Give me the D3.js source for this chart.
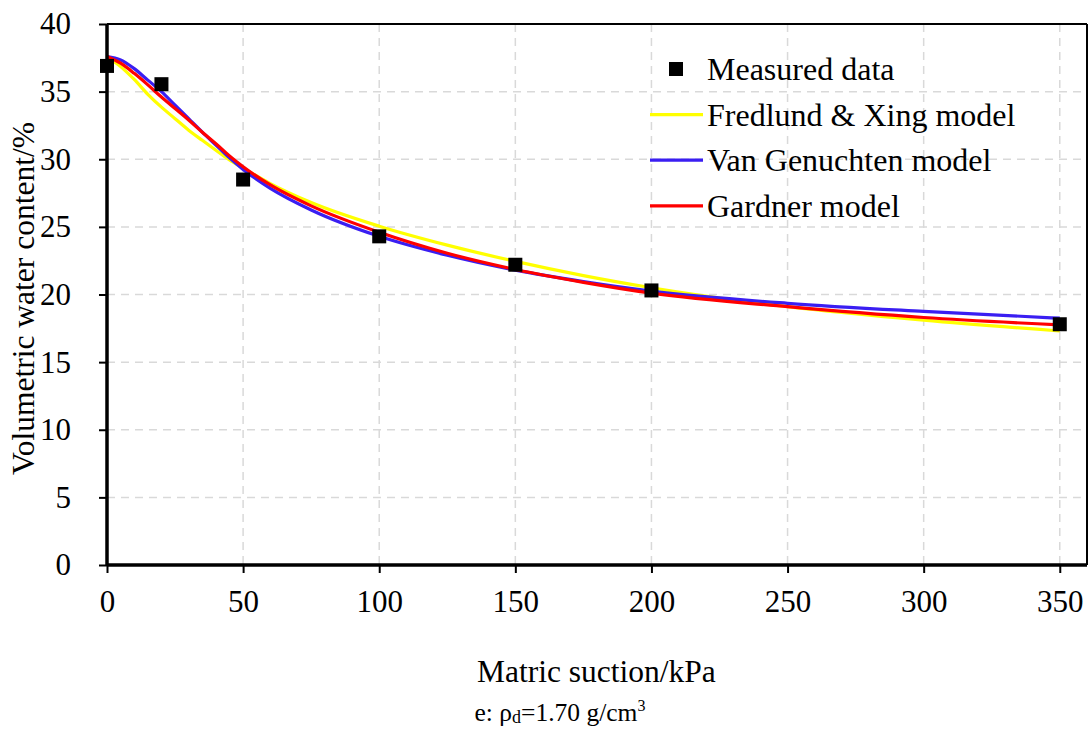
<!DOCTYPE html>
<html>
<head>
<meta charset="utf-8">
<script src="https://cdn.jsdelivr.net/npm/d3@7"></script>
<style>
  html, body { margin: 0; padding: 0; background: #fff; }
  svg { display: block; }
  svg text { font-family: "Liberation Serif", "Times New Roman", serif !important; fill: #000; }
</style>
</head>
<body>
<svg id="chart" width="1089" height="729"></svg>
<script>
// Measured soil-water characteristic points (suction kPa, volumetric water content %)
const measuredSuction = [0, 20, 50, 100, 150, 200, 350];
const measuredTheta   = [36.9, 35.55, 28.5, 24.3, 22.2, 20.3, 17.8];

// Fitted model curves, sampled along suction
const curveSuction = [0, 5, 10, 15, 20, 25, 30, 35, 40, 45, 50, 60, 75, 100, 125, 150, 175, 200, 250, 300, 350];
const fredlundXing = [37.6, 36.85, 35.9, 34.8, 33.85, 33.0, 32.15, 31.4, 30.67, 29.95, 29.35, 28.2, 26.8, 25.05, 23.65, 22.45, 21.4, 20.5, 19.1, 18.1, 17.3];
const vanGenuchten = [37.6, 37.35, 36.7, 35.85, 35.0, 34.0, 33.0, 32.0, 31.05, 30.1, 29.25, 27.85, 26.25, 24.3, 22.9, 21.8, 20.95, 20.25, 19.35, 18.75, 18.25];
const gardner      = [37.6, 37.1, 36.35, 35.5, 34.6, 33.75, 32.9, 32.0, 31.15, 30.25, 29.45, 28.1, 26.55, 24.6, 23.05, 21.85, 20.9, 20.1, 19.1, 18.3, 17.75];

const xTicks = [0, 50, 100, 150, 200, 250, 300, 350];
const yTicks = [0, 5, 10, 15, 20, 25, 30, 35, 40];

const seriesNames = ["Measured data", "Fredlund & Xing model", "Van Genuchten model", "Gardner model"];
const seriesColors = ["#000000", "#ffff00", "#3a1ef2", "#ff0000"];

const serif = '"Liberation Serif", "Times New Roman", serif';
const svg = d3.select("#chart");
const plot = { left: 107, right: 1087, top: 24, bottom: 565 };

const x = d3.scaleLinear().domain([0, 360]).range([plot.left, plot.right]);
const y = d3.scaleLinear().domain([0, 40]).range([plot.bottom, plot.top]);

// dashed grid
const grid = svg.append("g");
grid.selectAll("line.v").data(xTicks.filter(d => d > 0)).join("line")
  .attr("x1", d => x(d)).attr("x2", d => x(d))
  .attr("y1", plot.top).attr("y2", plot.bottom)
  .attr("stroke", "#d9d9d9").attr("stroke-width", 1.5).attr("stroke-dasharray", "8,6");
grid.selectAll("line.h").data(yTicks.filter(d => d > 0 && d < 40)).join("line")
  .attr("x1", plot.left).attr("x2", plot.right)
  .attr("y1", d => y(d)).attr("y2", d => y(d))
  .attr("stroke", "#d9d9d9").attr("stroke-width", 1.5).attr("stroke-dasharray", "8,6");

// frame: top and right edges
svg.append("line").attr("x1", plot.left).attr("x2", plot.right).attr("y1", plot.top).attr("y2", plot.top)
  .attr("stroke", "#000").attr("stroke-width", 2);
svg.append("line").attr("x1", plot.right).attr("x2", plot.right).attr("y1", plot.top).attr("y2", plot.bottom)
  .attr("stroke", "#000").attr("stroke-width", 2);

// model curves
const lineGen = d3.line().x(d => x(d[0])).y(d => y(d[1])).curve(d3.curveMonotoneX);
const models = [
  { values: fredlundXing, color: seriesColors[1] },
  { values: vanGenuchten, color: seriesColors[2] },
  { values: gardner, color: seriesColors[3] }
];
models.forEach(m => {
  svg.append("path")
    .datum(curveSuction.map((s, i) => [s, m.values[i]]))
    .attr("d", lineGen)
    .attr("fill", "none")
    .attr("stroke", m.color)
    .attr("stroke-width", 3.2);
});

// measured points
const sq = 14;
svg.append("g").selectAll("rect").data(measuredSuction.map((s, i) => [s, measuredTheta[i]])).join("rect")
  .attr("x", d => x(d[0]) - sq / 2).attr("y", d => y(d[1]) - sq / 2)
  .attr("width", sq).attr("height", sq).attr("fill", "#000");

// axes
const xAxis = svg.append("g").attr("transform", `translate(0,${plot.bottom})`)
  .call(d3.axisBottom(x).tickValues(xTicks).tickSize(8).tickPadding(17).tickFormat(d3.format("d")));
const yAxis = svg.append("g").attr("transform", `translate(${plot.left},0)`)
  .call(d3.axisLeft(y).tickValues(yTicks).tickSize(8).tickPadding(28).tickFormat(d3.format("d")));
[xAxis, yAxis].forEach(a => {
  a.attr("font-family", serif).attr("font-size", 31);
  a.select(".domain").attr("stroke", "#000").attr("stroke-width", 3.5);
  a.selectAll(".tick line").attr("stroke", "#000").attr("stroke-width", 2);
  a.selectAll(".tick text").style("font-family", serif).style("font-size", "31px").attr("fill", "#000");
});
xAxis.select(".domain").attr("d", `M${plot.left},0H${plot.right}`);
yAxis.select(".domain").attr("d", `M0,${plot.bottom}V${plot.top}`);

// axis titles
svg.append("text").attr("x", (x(0) + x(350)) / 2 + 13).attr("y", 682)
  .attr("text-anchor", "middle").attr("font-size", 31.5).text("Matric suction/kPa");
svg.append("text").attr("transform", `translate(34,${y(20) + 4}) rotate(-90)`)
  .attr("text-anchor", "middle").attr("font-size", 31.5).text("Volumetric water content/%");

// caption
const cap = svg.append("text").attr("x", 560).attr("y", 721).attr("text-anchor", "middle").attr("font-size", 25.5);
cap.append("tspan").text("e: ρ");
cap.append("tspan").attr("font-size", 18).attr("dy", 2).text("d");
cap.append("tspan").attr("dy", -2).text("=1.70 g/cm");
cap.append("tspan").attr("font-size", 16).attr("dy", -10).text("3");

// legend
const legend = svg.append("g");
const lx = 650, ly0 = 69, lstep = 45.6;
seriesNames.forEach((name, i) => {
  const ly = ly0 + i * lstep;
  if (i === 0) {
    legend.append("rect").attr("x", 676 - 7).attr("y", ly - 7).attr("width", 14).attr("height", 14).attr("fill", "#000");
  } else {
    legend.append("line").attr("x1", lx).attr("x2", lx + 53).attr("y1", ly).attr("y2", ly)
      .attr("stroke", seriesColors[i]).attr("stroke-width", 3.2);
  }
  legend.append("text").attr("x", 707).attr("y", ly + 11).attr("font-size", 32).text(name);
});
</script>
</body>
</html>
